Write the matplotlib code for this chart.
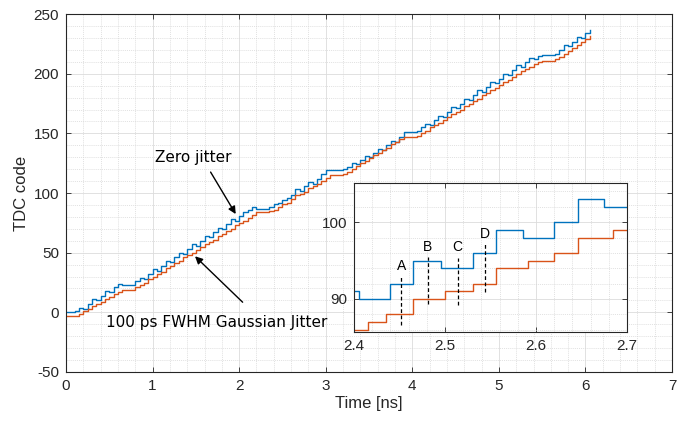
import numpy as np
import matplotlib
matplotlib.use("Agg")
import matplotlib.pyplot as plt

plt.rcParams["axes.unicode_minus"] = False

# main curves, TDC code sampled every 0.05 ns from t = 0
t_step = 0.05
zero_jitter = [
    0, 0, 1, 4, 3, 7, 11, 10, 14, 18, 17, 21, 24, 23, 23, 23,
    26, 29, 28, 32, 36, 35, 39, 43, 42, 46, 50, 49, 53, 57, 56, 60,
    64, 63, 67, 71, 70, 74, 78, 77, 81, 84, 86, 88, 87, 87, 87, 88,
    91, 92, 94, 96, 98, 103, 102, 106, 109, 108, 112, 116, 119, 119, 119, 119,
    120, 122, 125, 124, 128, 131, 130, 134, 137, 136, 140, 144, 143, 147, 151, 151,
    151, 152, 155, 158, 157, 161, 165, 164, 168, 172, 171, 175, 179, 178, 182, 186,
    185, 189, 193, 192, 196, 200, 199, 203, 207, 206, 210, 213, 212, 215, 216, 216,
    216, 217, 220, 224, 223, 227, 231, 230, 234, 237,
]
gauss_jitter = [
    -3, -3, -3, -1, 1, 3, 5, 7, 9, 11, 13, 15, 17, 19, 19, 19,
    21, 23, 25, 28, 30, 32, 34, 37, 39, 41, 43, 46, 48, 50, 52, 55,
    57, 59, 61, 64, 66, 68, 70, 73, 75, 77, 79, 82, 84, 84, 84, 85,
    86, 88, 91, 92, 95, 98, 99, 101, 104, 106, 108, 110, 113, 115, 115, 115,
    116, 118, 120, 123, 125, 127, 129, 132, 134, 136, 138, 141, 143, 145, 147, 147,
    147, 148, 150, 152, 155, 157, 159, 161, 164, 166, 168, 170, 173, 175, 177, 179,
    182, 184, 186, 188, 191, 193, 195, 197, 200, 202, 204, 206, 208, 210, 211, 211,
    211, 212, 214, 217, 219, 222, 224, 227, 229, 232,
]

# zoomed window 2.4 - 2.7 ns (step times and codes)
zero_inset_t = [2.40, 2.405, 2.440, 2.465, 2.496, 2.531, 2.556, 2.586, 2.620, 2.646, 2.675, 2.70]
zero_inset_code = [91, 90, 92, 95, 94, 96, 99, 98, 100, 103, 102, 102]
gauss_inset_t = [2.40, 2.415, 2.435, 2.465, 2.500, 2.531, 2.556, 2.591, 2.620, 2.646, 2.685, 2.70]
gauss_inset_code = [86, 87, 88, 90, 91, 92, 94, 95, 96, 98, 99, 99]

# dashed sampling instants A-D
mark_labels = ["A", "B", "C", "D"]
mark_t = [2.452, 2.481, 2.514, 2.544]
mark_lo = [86.6, 89.4, 89.2, 90.9]
mark_hi = [93.0, 95.5, 95.4, 97.1]

blue = "#0072BD"
orange = "#D95319"
axcol = "#262626"
tickfont = "Liberation Sans"

t_main = np.arange(len(zero_jitter)) * t_step


def style_axes(ax):
    ax.set_axisbelow(True)
    ax.minorticks_on()
    ax.grid(which="major", color="#dcdcdc", linestyle="-", linewidth=0.6)
    ax.grid(which="minor", color="#d6d6d6", linestyle=(0, (1.5, 1.5)), linewidth=0.5)
    for s in ax.spines.values():
        s.set_color(axcol)
        s.set_linewidth(0.8)
    ax.tick_params(which="both", direction="in", top=True, right=True, colors=axcol)
    ax.tick_params(which="major", length=3.5, width=0.6, labelsize=11, pad=5)
    ax.tick_params(which="minor", length=0)
    for lab in ax.get_xticklabels() + ax.get_yticklabels():
        lab.set_fontfamily(tickfont)


fig = plt.figure(figsize=(6.82, 4.22), dpi=100)
ax = fig.add_axes([0.0968, 0.1185, 0.8886, 0.848])

ax.plot(t_main, zero_jitter, color=blue, lw=1.0, drawstyle="steps-post")
ax.plot(t_main, gauss_jitter, color=orange, lw=1.0, drawstyle="steps-post")

ax.set_xlim(0, 7)
ax.set_ylim(-50, 250)
ax.set_xticks(np.arange(0, 8, 1))
ax.set_yticks(np.arange(-50, 251, 50))
ax.set_xticks(np.arange(0, 7.01, 0.2), minor=True)
ax.set_yticks(np.arange(-50, 251, 10), minor=True)
style_axes(ax)
ax.set_xlabel("Time [ns]", fontsize=12, family=tickfont, color=axcol, labelpad=2)
ax.set_ylabel("TDC code", fontsize=12, family=tickfont, color=axcol, labelpad=3)

arrow = dict(arrowstyle="-|>", color="black", lw=1.0, mutation_scale=11, shrinkA=0, shrinkB=0)
ax.text(1.47, 130, "Zero jitter", fontsize=11, ha="center", va="center")
ax.annotate("", xy=(1.96, 82.4), xytext=(1.67, 117.6), arrowprops=arrow)
ax.text(1.74, -8.3, "100 ps FWHM Gaussian Jitter", fontsize=11, ha="center", va="center")
ax.annotate("", xy=(1.49, 47), xytext=(2.04, 8.5), arrowprops=arrow)

# inset
axi = fig.add_axes([0.519, 0.2133, 0.4003, 0.353])
axi.set_facecolor("white")
axi.plot(zero_inset_t, zero_inset_code, color=blue, lw=1.0, drawstyle="steps-post")
axi.plot(gauss_inset_t, gauss_inset_code, color=orange, lw=1.0, drawstyle="steps-post")
for lab, t, lo, hi in zip(mark_labels, mark_t, mark_lo, mark_hi):
    axi.plot([t, t], [lo, hi], color="black", lw=0.9, linestyle=(0, (3, 2)))
    axi.text(t, hi + 0.4, lab, ha="center", va="bottom", fontsize=10, family=tickfont)
axi.set_xlim(2.4, 2.7)
axi.set_ylim(85.7, 105.1)
axi.set_xticks([2.4, 2.5, 2.6, 2.7])
axi.set_yticks([90, 100])
axi.set_xticks(np.arange(2.4, 2.701, 0.02), minor=True)
axi.set_yticks(np.arange(86, 105, 2), minor=True)
axi.set_xticklabels(["2.4", "2.5", "2.6", "2.7"])
axi.set_yticklabels(["90", "100"])
style_axes(axi)

fig.savefig("out.png", dpi=100)
